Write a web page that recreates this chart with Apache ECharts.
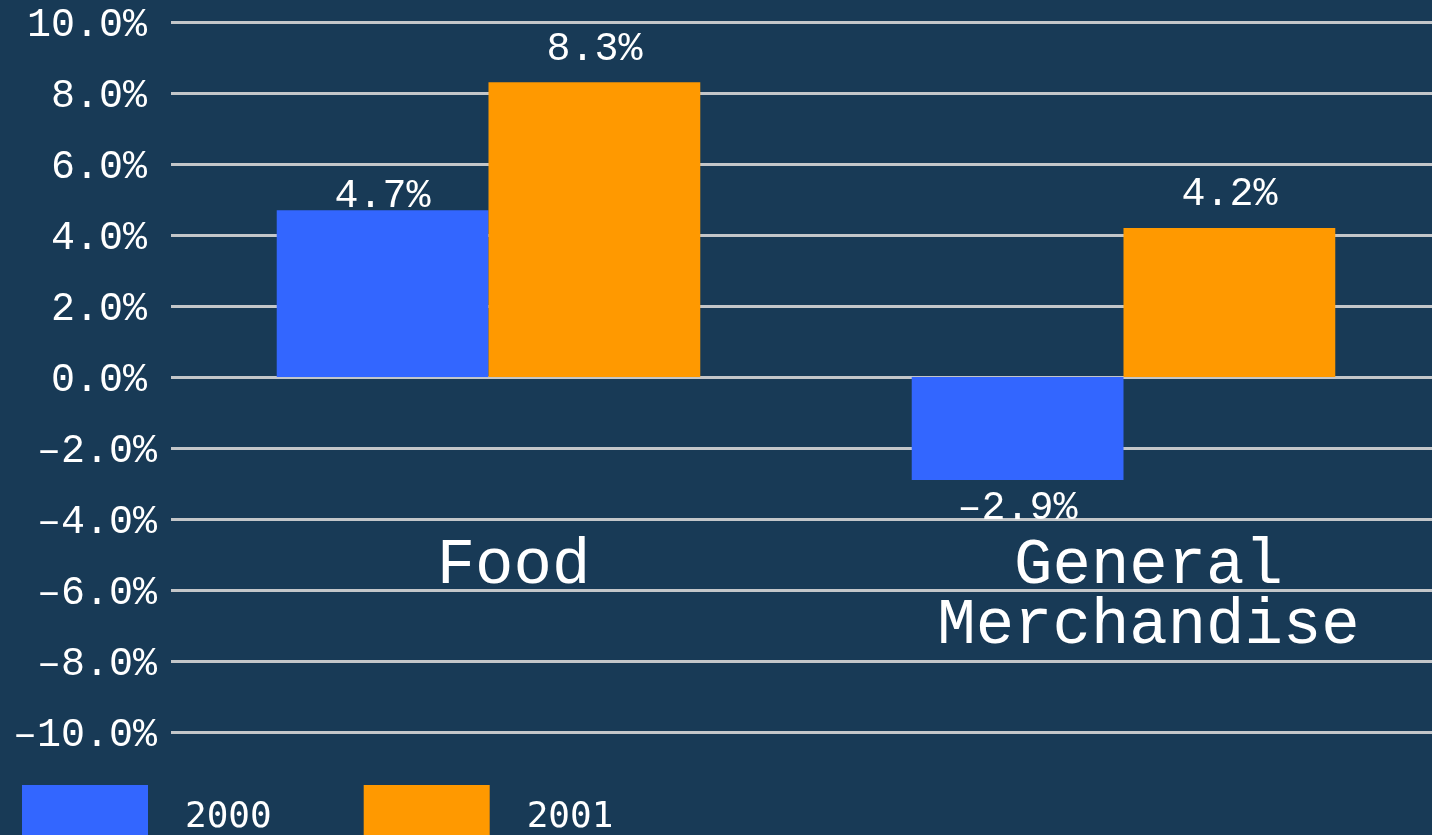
<!DOCTYPE html>
<html>
<head>
<meta charset="utf-8">
<title>Sales growth</title>
<script src="https://cdn.jsdelivr.net/npm/echarts@6/dist/echarts.min.js"></script>
<style>
	html, body { margin: 0; padding: 0; background: #183a56; }
	#chart { width: 1432px; height: 835px; }
</style>
</head>
<body>
<div id="chart"></div>
<script>
	// categories and series
	var categories = ['Food', 'General Merchandise'];
	var seriesNames = ['2000', '2001'];
	var values2000 = [4.7, -2.9];
	var values2001 = [8.3, 4.2];
	var yTicks = [-10, -8, -6, -4, -2, 0, 2, 4, 6, 8, 10];

	var font = '"Liberation Mono", "Courier New", monospace';

	//format percent, negative with en dash
	function pct(v) {
		var s = Math.abs(v).toFixed(1) + '%';
		return v < 0 ? '\u2013' + s : s;
	}

	//per-bar label distance (the 4.7% label sits lower on its bar)
	function build_data(vals, first) {
		var out = [];
		for(var i = 0; i < vals.length; i++) {
			var item = { value: vals[i] };
			if(vals[i] < 0) {
				item.label = { position: 'bottom', distance: 8 };
			} else if(first) {
				item.label = { position: 'top', distance: -6 };
			}
			out.push(item);
		}
		return out;
	}

	var labelStyle = {
		show: true,
		position: 'top',
		distance: 13,
		color: '#ffffff',
		fontFamily: font,
		fontSize: 40,
		formatter: function(p) { return pct(p.value); }
	};

	var myChart = echarts.init(document.getElementById('chart'));
	var option = {
		backgroundColor: '#183a56',
		animation: false,
		grid: {
			left: 171,
			right: -9,
			top: 22,
			bottom: 103,
			containLabel: false,
			outerBoundsMode: 'none'
		},
		//legend icons run off the bottom edge
		legend: {
			left: 22,
			top: 785,
			padding: 0,
			itemWidth: 126,
			itemHeight: 66,
			itemGap: 92,
			icon: 'rect',
			data: seriesNames,
			textStyle: {
				color: '#ffffff',
				fontFamily: '"DejaVu Sans Mono", monospace',
				fontSize: 36,
				padding: [0, 0, 0, 32]
			}
		},
		xAxis: {
			type: 'category',
			position: 'bottom',
			data: categories,
			axisLine: { show: false, onZero: false },
			axisTick: { show: false },
			axisLabel: {
				show: true,
				color: '#ffffff',
				fontFamily: font,
				fontSize: 64,
				lineHeight: 60,
				margin: -196,
				padding: [0, 0, 0, 50],
				verticalAlign: 'top',
				interval: 0,
				formatter: function(v) { return v.replace(' ', '\n'); }
			}
		},
		yAxis: {
			type: 'value',
			min: yTicks[0],
			max: yTicks[yTicks.length - 1],
			interval: 2,
			axisLine: { show: false },
			axisTick: { show: false },
			splitLine: { lineStyle: { color: '#c3c6c9', width: 3 } },
			axisLabel: {
				margin: 14,
				color: '#ffffff',
				fontFamily: font,
				fontSize: 40,
				formatter: function(v) {
					return v < 0 ? '{n|' + pct(v) + '}' : '{p|' + pct(v) + '}';
				},
				rich: {
					p: { fontFamily: font, fontSize: 40, color: '#ffffff', padding: [6, 10, 0, 0] },
					n: { fontFamily: font, fontSize: 40, color: '#ffffff', padding: [6, 0, 0, 0] }
				}
			}
		},
		series: [{
			name: seriesNames[0],
			type: 'bar',
			barGap: 0,
			barCategoryGap: '33.3%',
			itemStyle: { color: '#3366ff' },
			label: labelStyle,
			data: build_data(values2000, true)
		}, {
			name: seriesNames[1],
			type: 'bar',
			barGap: 0,
			barCategoryGap: '33.3%',
			itemStyle: { color: '#ff9900' },
			label: labelStyle,
			data: build_data(values2001, false)
		}]
	};
	myChart.setOption(option);
</script>
</body>
</html>
